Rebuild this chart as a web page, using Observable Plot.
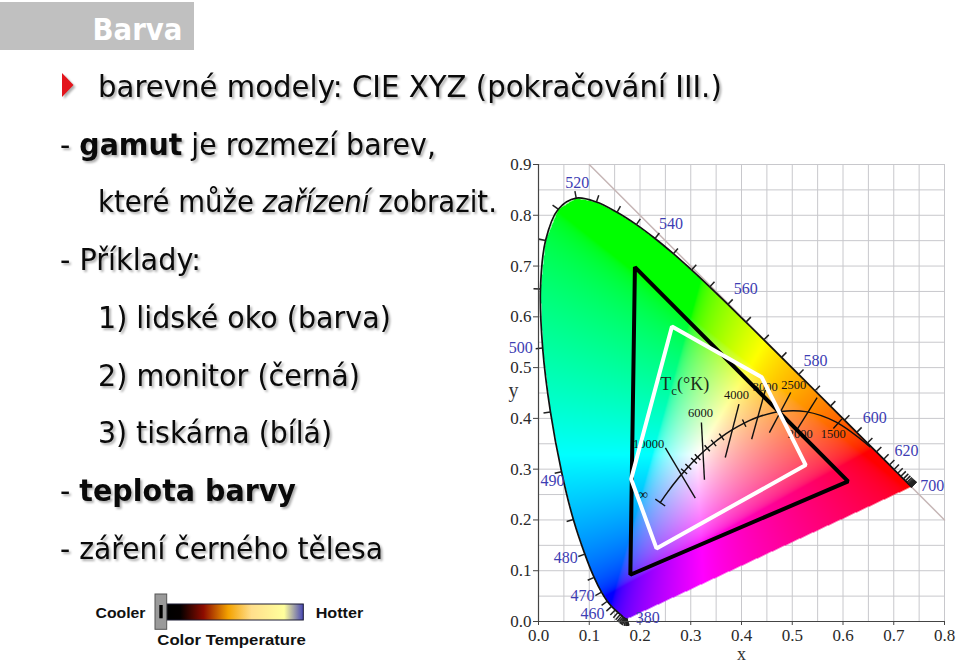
<!DOCTYPE html>
<html><head><meta charset="utf-8">
<script src="https://cdn.jsdelivr.net/npm/d3@7"></script>
<script src="https://cdn.jsdelivr.net/npm/@observablehq/plot@0.6"></script>
<style>
html,body{margin:0;padding:0;background:#fff;}
#wrap{position:relative;width:960px;height:666px;overflow:hidden;background:#fff;}
#chart{position:absolute;left:0;top:0;}
#slide{position:absolute;left:0;top:0;pointer-events:none;}
.sh{filter:drop-shadow(2px 2px 1px rgba(0,0,0,0.32));}
</style></head><body>
<div id="wrap"><div id="chart"></div>
<svg id="slide" width="960" height="666" xmlns="http://www.w3.org/2000/svg">
  <defs>
    <linearGradient id="ctgrad" x1="0" x2="1" y1="0" y2="0">
      <stop offset="0" stop-color="#000000"/>
      <stop offset="0.1" stop-color="#050000"/>
      <stop offset="0.27" stop-color="#8e0c00"/>
      <stop offset="0.45" stop-color="#f4a200"/>
      <stop offset="0.62" stop-color="#ffdf8c"/>
      <stop offset="0.86" stop-color="#ffff9c"/>
      <stop offset="1" stop-color="#4646b4"/>
    </linearGradient>
  </defs>
</svg></div>
<script>
// ---------- DATA ----------
// CIE 1931 spectral locus (wavelength nm, chromaticity x, y)
const wavelengths = [380,385,390,395,400,405,410,415,420,425,430,435,440,445,450,455,460,465,470,475,480,485,490,495,500,505,510,515,520,525,530,535,540,545,550,555,560,565,570,575,580,585,590,595,600,605,610,615,620,625,630,635,640,645,650,655,660,665,670,675,680,685,690,695,700];
const locusX = [0.1741,0.1740,0.1738,0.1736,0.1733,0.1730,0.1726,0.1721,0.1714,0.1703,0.1689,0.1669,0.1644,0.1611,0.1566,0.1510,0.1440,0.1355,0.1241,0.1096,0.0913,0.0687,0.0454,0.0235,0.0082,0.0039,0.0139,0.0389,0.0743,0.1142,0.1547,0.1929,0.2296,0.2658,0.3016,0.3373,0.3731,0.4087,0.4441,0.4788,0.5125,0.5448,0.5752,0.6029,0.6270,0.6482,0.6658,0.6801,0.6915,0.7006,0.7079,0.7140,0.7190,0.7230,0.7260,0.7283,0.7300,0.7311,0.7320,0.7327,0.7334,0.7340,0.7344,0.7346,0.7347];
const locusY = [0.0050,0.0050,0.0049,0.0049,0.0048,0.0048,0.0048,0.0048,0.0051,0.0058,0.0069,0.0086,0.0109,0.0138,0.0177,0.0227,0.0297,0.0399,0.0578,0.0868,0.1327,0.2007,0.2950,0.4127,0.5384,0.6548,0.7502,0.8120,0.8338,0.8262,0.8059,0.7816,0.7543,0.7243,0.6923,0.6589,0.6245,0.5896,0.5547,0.5202,0.4866,0.4544,0.4242,0.3965,0.3725,0.3514,0.3340,0.3197,0.3083,0.2993,0.2920,0.2859,0.2809,0.2770,0.2740,0.2717,0.2700,0.2689,0.2680,0.2673,0.2666,0.2660,0.2656,0.2654,0.2653];
const wlLabels = [380,460,470,480,490,500,520,540,560,580,600,620,700];

// Planckian locus (temperature K, x, y)
const planckT = [Infinity,30000,20000,15000,12000,10000,9000,8000,7500,7000,6500,6000,5500,5000,4500,4000,3500,3000,2500,2000,1500,1000];
const planckX = [0.2399,0.2501,0.2564,0.2637,0.2719,0.2807,0.2869,0.2952,0.3004,0.3064,0.3135,0.3221,0.3325,0.3451,0.3608,0.3805,0.4053,0.4369,0.4770,0.5267,0.5857,0.6528];
const planckY = [0.2342,0.2488,0.2574,0.2672,0.2776,0.2884,0.2956,0.3048,0.3103,0.3166,0.3237,0.3318,0.3411,0.3516,0.3636,0.3768,0.3907,0.4041,0.4137,0.4133,0.3931,0.3444];
const minorTickT = [9000,8000,7000,6500,5500,5000,4500,3500];

// Isotemperature lines and their labels
const isoT  = [10000,6000,4000,3000,2500,2000,1500];
const isoX1 = [0.250,0.321,0.395,0.447,0.497,0.549,0.598];
const isoY1 = [0.342,0.392,0.428,0.456,0.451,0.441,0.399];
const isoX2 = [0.309,0.327,0.368,0.420,0.455,0.510,0.581];
const isoY2 = [0.243,0.279,0.323,0.359,0.372,0.379,0.380];
const isoLabelX = [0.217,0.319,0.390,0.447,0.503,0.516,0.581];
const isoLabelY = [0.350,0.411,0.447,0.462,0.465,0.370,0.370];
const tcLabel = {x: 0.288, y: 0.468, text: "Tc(°K)"};
const infLabel = {x: 0.206, y: 0.250, text: "∞"};

// Gamuts
const monitorX = [0.610,0.190,0.181];
const monitorY = [0.276,0.698,0.092];
const printerX = [0.263,0.440,0.5265,0.2325,0.1826];
const printerY = [0.5810,0.4808,0.3080,0.1440,0.2805];

// Axes
const axisTicks = [0,0.1,0.2,0.3,0.4,0.5,0.6,0.7,0.8];
const axisTicksY = [0,0.1,0.2,0.3,0.4,0.5,0.6,0.7,0.8,0.9];
const gridTicksX = d3.range(0, 0.8001, 0.05);
const gridTicksY = d3.range(0, 0.9001, 0.05);
const diagonalX = [0.1, 0.8]; // x + y = 1

// Slide text
const title = "Barva";
const slideLines = [
  [["barevné modely: CIE XYZ (pokračování III.)",""]],
  [["- ",""],["gamut","b"],[" je rozmezí barev,",""]],
  [["které může ",""],["zařízení","i"],[" zobrazit.",""]],
  [["- Příklady:",""]],
  [["1) lidské oko (barva)",""]],
  [["2) monitor (černá)",""]],
  [["3) tiskárna (bílá)",""]],
  [["- ",""],["teplota barvy","b"]],
  [["- záření černého tělesa",""]]
];
const legendTexts = ["Cooler","Hotter","Color Temperature"];

// ---------- LAYOUT ----------
const K = 507.5; // px per chromaticity unit (equal aspect)
const wlLabelOffset = {380:[21,-1],460:[-19,7],470:[-19,4],480:[-19,4],490:[-9,9],500:[-22,0],520:[1,-15],540:[16,-15],560:[18,-16],580:[17,-14],600:[18,-14],620:[17,-14],700:[21,-1]};
const lineX = [98,60,98,60,98,98,98,60,60];
const lineW = [624,376,399,141,293,262,234,236,323];
const baseline0 = 97, lineStep = 57.7;

// ---------- DERIVED ----------
const locus = wavelengths.map((w,i)=>({w, x: locusX[i], y: locusY[i]}));
const poly = locus.map(d=>[d.x,d.y]);
function normalAt(arrX, arrY, i){
  const n = arrX.length, p = Math.max(i-1,0), q = Math.min(i+1,n-1);
  const dx = arrX[q]-arrX[p], dy = arrY[q]-arrY[p];
  const l = Math.hypot(dx,dy) || 1;
  return [-dy/l, dx/l];
}
const wlTicks = locus.map((d,i)=>{
  const [nx,ny] = normalAt(locusX, locusY, i);
  const L = 7/K;
  return {x1:d.x, y1:d.y, x2:d.x+nx*L, y2:d.y+ny*L};
});
const wlLabelData = wlLabels.map(w=>{
  const i = wavelengths.indexOf(w);
  const [ox,oy] = wlLabelOffset[w];
  return {x: locusX[i] + ox/K, y: locusY[i] - oy/K, text: String(w)};
});
const planck = planckT.map((t,i)=>({t, x: planckX[i], y: planckY[i]}));
function planckTick(t, halfPx){
  const i = planckT.indexOf(t);
  const [nx,ny] = normalAt(planckX, planckY, i);
  const h = halfPx/K;
  return {x1: planckX[i]-nx*h, y1: planckY[i]-ny*h, x2: planckX[i]+nx*h, y2: planckY[i]+ny*h};
}
const minorTicks = minorTickT.map(t=>planckTick(t,4)).concat([planckTick(Infinity,6)]);
const isoLines = isoT.map((t,i)=>({x1:isoX1[i],y1:isoY1[i],x2:isoX2[i],y2:isoY2[i]}));
const isoLabels = isoT.map((t,i)=>({x: isoLabelX[i], y: isoLabelY[i], text: String(t)}));
const monitor = monitorX.map((x,i)=>({x, y: monitorY[i]}));
const printer = printerX.map((x,i)=>({x, y: printerY[i]}));
const diagonal = diagonalX.map(x=>({x, y: 1-x}));

function gammaEnc(v){ return v <= 0.0031308 ? 12.92*v : 1.055*Math.pow(v,1/2.4)-0.055; }
function chromaColor(x,y){
  if (y <= 0.001 || !d3.polygonContains(poly,[x,y])) return null;
  const X = x/y, Z = (1-x-y)/y;
  let r =  3.2406*X - 1.5372 - 0.4986*Z;
  let g = -0.9689*X + 1.8758 + 0.0415*Z;
  let b =  0.0557*X - 0.2040 + 1.0570*Z;
  r = Math.max(r,0); g = Math.max(g,0); b = Math.max(b,0);
  const m = Math.max(r,g,b) || 1;
  return `rgb(${Math.round(255*gammaEnc(r/m))},${Math.round(255*gammaEnc(g/m))},${Math.round(255*gammaEnc(b/m))})`;
}
function chromaOpacity(x,y){
  return (y > 0.001 && d3.polygonContains(poly,[x,y])) ? 1 : 0;
}

const serif = "'Liberation Serif','DejaVu Serif',serif";
const chart = Plot.plot({
  width: 960, height: 666,
  marginLeft: 538, marginRight: 16, marginTop: 164, marginBottom: 45,
  x: {domain: [0, 0.8]},
  y: {domain: [0, 0.9]},
  color: {type: "identity"},
  style: {background: "transparent", fontFamily: serif, fontSize: "16px", color: "#2a2a2a", overflow: "visible"},
  marks: [
    Plot.ruleX(gridTicksX, {stroke: "#c8c8cc", strokeWidth: 1}),
    Plot.ruleY(gridTicksY, {stroke: "#c8c8cc", strokeWidth: 1}),
    Plot.line(diagonal, {x: "x", y: "y", stroke: "#c6b6b6", strokeWidth: 1.5}),
    Plot.raster({x1: 0, y1: 0, x2: 0.8, y2: 0.9, fill: chromaColor, fillOpacity: chromaOpacity, imageRendering: "auto"}),
    Plot.line(locus, {x: "x", y: "y", curve: "catmull-rom", stroke: "#111", strokeWidth: 1.7}),
    Plot.link(wlTicks, {x1: "x1", y1: "y1", x2: "x2", y2: "y2", stroke: "#222", strokeWidth: 1.5}),
    Plot.ruleX([0], {stroke: "#444", strokeWidth: 1.2}),
    Plot.ruleY([0], {stroke: "#444", strokeWidth: 1.2}),
    Plot.axisX({ticks: axisTicks, tickFormat: d => d.toFixed(1), tickSize: 4, tickPadding: 3, fontSize: 17, label: null, stroke: "#444"}),
    Plot.axisY({ticks: axisTicksY, tickFormat: d => d.toFixed(1), tickSize: 5, tickPadding: 2, fontSize: 17, label: null, stroke: "#444"}),
    Plot.text(["x"], {text: d => d, frameAnchor: "bottom", lineAnchor: "middle", dy: 33, fontSize: 18, fill: "#333"}),
    Plot.text(["y"], {text: d => d, frameAnchor: "left", lineAnchor: "middle", dx: -30, dy: -2, fontSize: 20, fill: "#333"}),
    Plot.line(planck, {x: "x", y: "y", curve: "catmull-rom", stroke: "#111", strokeWidth: 1.5}),
    Plot.link(isoLines, {x1: "x1", y1: "y1", x2: "x2", y2: "y2", stroke: "#111", strokeWidth: 1.4}),
    Plot.link(minorTicks, {x1: "x1", y1: "y1", x2: "x2", y2: "y2", stroke: "#111", strokeWidth: 1.4}),
    Plot.text(isoLabels, {x: "x", y: "y", text: "text", fontSize: 12.5, fill: "#151515"}),
    Plot.text([infLabel], {x: "x", y: "y", text: "text", fontSize: 14, fill: "#151515"}),
    Plot.text([tcLabel], {x: "x", y: "y", text: "text", fontSize: 18, fill: "#1a2e1a"}),
    Plot.line(monitor, {x: "x", y: "y", curve: "linear-closed", stroke: "#000", strokeWidth: 4, strokeLinejoin: "miter"}),
    Plot.line(printer, {x: "x", y: "y", curve: "linear-closed", stroke: "#fff", strokeWidth: 4, strokeLinejoin: "miter"}),
    Plot.text(wlLabelData, {x: "x", y: "y", text: "text", fontSize: 16, fill: "#3d3db3"})
  ]
});
document.getElementById("chart").appendChild(chart);

// subscript in Tc(°K)
chart.querySelectorAll("text").forEach(el => {
  if (el.textContent === tcLabel.text) {
    while (el.firstChild) el.removeChild(el.firstChild);
    const ns = "http://www.w3.org/2000/svg";
    const a = document.createElementNS(ns, "tspan"); a.textContent = "T";
    const b = document.createElementNS(ns, "tspan"); b.textContent = "c"; b.setAttribute("dy", "5"); b.setAttribute("font-size", "13");
    const c = document.createElementNS(ns, "tspan"); c.textContent = "(°K)"; c.setAttribute("dy", "-5");
    el.appendChild(a); el.appendChild(b); el.appendChild(c);
  }
});

// ---------- SLIDE TEXT ----------
const svg = d3.select("#slide");
svg.append("rect").attr("x", 0).attr("y", 2).attr("width", 194).attr("height", 48).attr("fill", "#c0c0c0");
function fitText(g, x, base, w){
  const t = g.select("text").node();
  const len = t.getComputedTextLength();
  g.attr("transform", `translate(${x},${base}) scale(${w/len},1)`);
}
const tg = svg.append("g");
tg.append("text").attr("font-family", "'DejaVu Sans',sans-serif").attr("font-weight", "bold")
  .attr("font-size", 31).attr("fill", "#fff").text(title);
fitText(tg, 92.5, 39.5, 90);

svg.append("polygon").attr("class", "sh").attr("points", "62,73 73.5,85 62,97").attr("fill", "#e3141c");

slideLines.forEach((segs, i) => {
  const g = svg.append("g").attr("class", "sh");
  const t = g.append("text").attr("font-family", "'DejaVu Sans',sans-serif").attr("font-size", 30).attr("fill", "#0a0a0a");
  segs.forEach(([s, st]) => {
    const sp = t.append("tspan").text(s);
    if (st === "b") sp.attr("font-weight", "bold");
    if (st === "i") sp.attr("font-style", "italic");
  });
  t.attr("xml:space", "preserve").style("white-space", "pre");
  fitText(g, lineX[i], baseline0 + i*lineStep, lineW[i]);
});

// ---------- COLOR TEMPERATURE LEGEND ----------
const lf = "'Liberation Sans','Arimo',Arial,sans-serif";
const lg1 = svg.append("g"); lg1.append("text").attr("font-family", lf).attr("font-weight", "bold").attr("font-size", 15.5).attr("fill", "#111").text(legendTexts[0]);
fitText(lg1, 95.5, 617.5, 50);
svg.append("rect").attr("x", 166.7).attr("y", 604).attr("width", 136.6).attr("height", 16).attr("fill", "url(#ctgrad)").attr("stroke", "#1a1a33").attr("stroke-width", 1);
svg.append("rect").attr("x", 155).attr("y", 594).attr("width", 11.7).attr("height", 35.3).attr("fill", "#9a9a9a").attr("stroke", "#555").attr("stroke-width", 1);
svg.append("rect").attr("x", 159.3).attr("y", 605).attr("width", 3.4).attr("height", 13.3).attr("fill", "#000");
const lg2 = svg.append("g"); lg2.append("text").attr("font-family", lf).attr("font-weight", "bold").attr("font-size", 15.5).attr("fill", "#111").text(legendTexts[1]);
fitText(lg2, 315.7, 617.5, 47.6);
const lg3 = svg.append("g"); lg3.append("text").attr("font-family", lf).attr("font-weight", "bold").attr("font-size", 15.5).attr("fill", "#111").text(legendTexts[2]);
fitText(lg3, 157.3, 645, 148.7);
</script>
</body></html>
